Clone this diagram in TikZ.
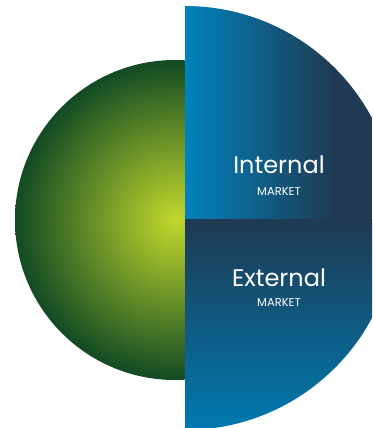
\documentclass[tikz,border=0pt]{standalone}
\usepackage{fontspec}
\setmainfont{Poppins}
\definecolor{mktblue}{HTML}{0082BC}
\definecolor{mktnavy}{HTML}{1F3A52}
\definecolor{mktblueb}{HTML}{0079AF}
\definecolor{ballinner}{HTML}{C2D82C}
\definecolor{ballouter}{HTML}{124A24}
\begin{document}
\begin{tikzpicture}[x=1pt,y=1pt,
        bigword/.style={text=white, inner sep=0pt, font=\fontsize{24}{24}\selectfont},
        smallword/.style={text=white, inner sep=0pt, font=\fontsize{11.5}{11.5}\selectfont}]
        \useasboundingbox (0,0) rectangle (372,428);
        % green ball, only its left half shows
        \begin{scope}
            \clip (0,0) rectangle (185,428);
            \shade[inner color=ballinner, outer color=ballouter] (175,208) circle (160);
        \end{scope}
        % blue half disc
        \begin{scope}
            \clip (185,0) rectangle (372,428);
            \clip (185,210) circle (212);
            \shade[left color=mktblue, right color=mktnavy] (185,208) rectangle (335,428);
            \fill[mktnavy] (334,208) rectangle (372,428);
            \shade[top color=mktnavy, bottom color=mktblueb] (185,0) rectangle (372,208);
        \end{scope}
        \node[bigword] (internal) at (279,263) {Internal};
        \node[smallword] (internalmkt) at (279,237) {MARKET};
        \node[bigword] (external) at (279,150) {External};
        \node[smallword] (externalmkt) at (279,125.5) {MARKET};
    \end{tikzpicture}
\end{document}
